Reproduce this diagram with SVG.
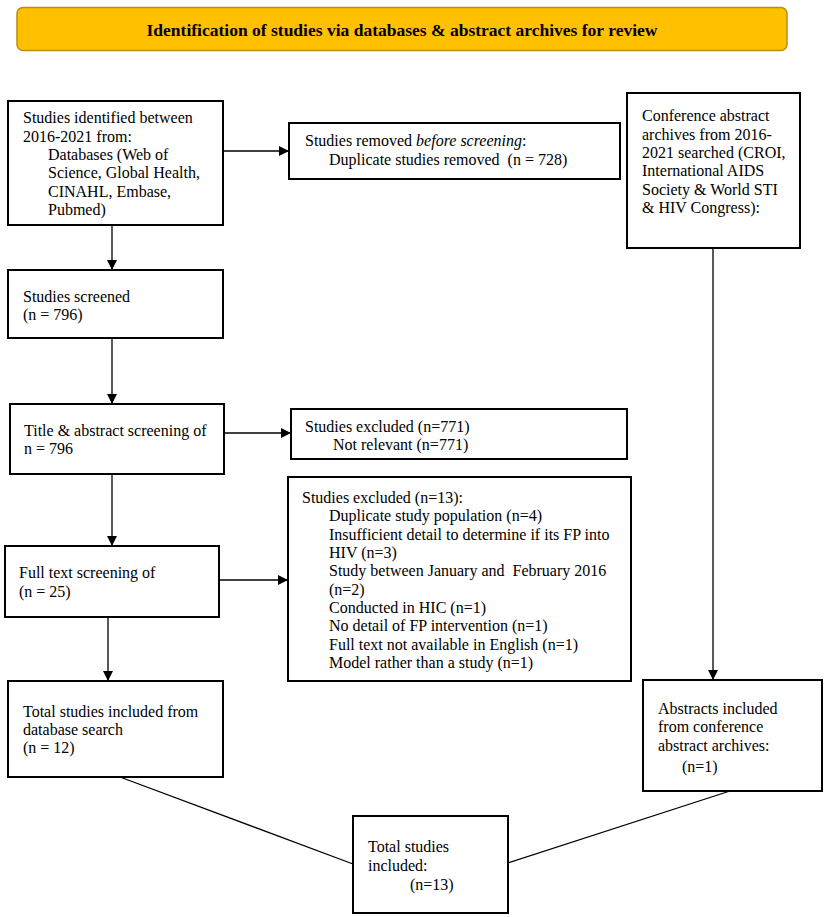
<svg xmlns="http://www.w3.org/2000/svg" width="829" height="917" viewBox="0 0 829 917">
<style>
  .box { fill: #ffffff; stroke: #000000; stroke-width: 2; }
  .t { font-family: "Liberation Serif", "Times New Roman", serif; font-size: 16px; fill: #000000; white-space: pre; }
  .title { font-family: "Liberation Serif", "Times New Roman", serif; font-size: 17.5px; font-weight: bold; fill: #000000; }
  .conn { stroke: #000000; stroke-width: 1.3; fill: none; }
</style>
<defs>
  <marker id="arr" viewBox="0 0 10 10" refX="10" refY="5" markerWidth="10" markerHeight="10" markerUnits="userSpaceOnUse" orient="auto">
    <path d="M0,0 L10,5 L0,10 Z" fill="#000000"/>
  </marker>
</defs>
<rect width="829" height="917" fill="#ffffff"/>

<g id="banner">
  <rect x="17" y="7.5" width="770" height="43" rx="6" ry="6" fill="#FFC000" stroke="#B8900A" stroke-width="1.5"/>
  <text class="title" x="402" y="36" text-anchor="middle">Identification of studies via databases &amp; abstract archives for review</text>
</g>

<g id="connectors">
  <line class="conn" x1="223" y1="151" x2="289" y2="151" marker-end="url(#arr)"/>
  <line class="conn" x1="112" y1="225" x2="112" y2="270" marker-end="url(#arr)"/>
  <line class="conn" x1="112" y1="338" x2="112" y2="404" marker-end="url(#arr)"/>
  <line class="conn" x1="224" y1="433" x2="291" y2="433" marker-end="url(#arr)"/>
  <line class="conn" x1="112" y1="474" x2="112" y2="546" marker-end="url(#arr)"/>
  <line class="conn" x1="219" y1="580" x2="288" y2="580" marker-end="url(#arr)"/>
  <line class="conn" x1="108" y1="617" x2="108" y2="681" marker-end="url(#arr)"/>
  <line class="conn" x1="713" y1="248" x2="713" y2="680" marker-end="url(#arr)"/>
  <line class="conn" x1="120" y1="777" x2="353" y2="864"/>
  <line class="conn" x1="508" y1="863" x2="730" y2="791"/>
</g>

<g id="identified">
  <rect class="box" x="8" y="101" width="215" height="124"/>
  <text class="t" x="23" y="123">Studies identified between</text>
  <text class="t" x="23" y="141.5">2016-2021 from:</text>
  <text class="t" x="48" y="160">Databases (Web of</text>
  <text class="t" x="48" y="178">Science, Global Health,</text>
  <text class="t" x="48" y="196.5">CINAHL, Embase,</text>
  <text class="t" x="48" y="215">Pubmed)</text>
</g>

<g id="removed">
  <rect class="box" x="289" y="123" width="331" height="56"/>
  <text class="t" x="305" y="146">Studies removed <tspan font-style="italic">before screening</tspan>:</text>
  <text class="t" x="329" y="165">Duplicate studies removed  (n = 728)</text>
</g>

<g id="conference">
  <rect class="box" x="627" y="93" width="173" height="155"/>
  <text class="t" x="642" y="121">Conference abstract</text>
  <text class="t" x="642" y="139.5">archives from 2016-</text>
  <text class="t" x="642" y="158">2021 searched (CROI,</text>
  <text class="t" x="642" y="176">International AIDS</text>
  <text class="t" x="642" y="194.5">Society &amp; World STI</text>
  <text class="t" x="642" y="213">&amp; HIV Congress):</text>
</g>

<g id="screened">
  <rect class="box" x="8" y="270" width="215" height="68"/>
  <text class="t" x="23" y="302">Studies screened</text>
  <text class="t" x="23" y="320">(n = 796)</text>
</g>

<g id="title-abstract">
  <rect class="box" x="10" y="404" width="214" height="70"/>
  <text class="t" x="24" y="436">Title &amp; abstract screening of</text>
  <text class="t" x="24" y="454">n = 796</text>
</g>

<g id="excluded771">
  <rect class="box" x="291" y="409" width="336" height="50"/>
  <text class="t" x="305" y="432">Studies excluded (n=771)</text>
  <text class="t" x="333" y="450">Not relevant (n=771)</text>
</g>

<g id="fulltext">
  <rect class="box" x="5" y="546" width="214" height="71"/>
  <text class="t" x="19" y="578">Full text screening of</text>
  <text class="t" x="19" y="597">(n = 25)</text>
</g>

<g id="excluded13">
  <rect class="box" x="288" y="477" width="343" height="204"/>
  <text class="t" x="302" y="503">Studies excluded (n=13):</text>
  <text class="t" x="329" y="521">Duplicate study population (n=4)</text>
  <text class="t" x="329" y="539.5">Insufficient detail to determine if its FP into</text>
  <text class="t" x="329" y="558">HIV (n=3)</text>
  <text class="t" x="329" y="576">Study between January and  February 2016</text>
  <text class="t" x="329" y="594.5">(n=2)</text>
  <text class="t" x="329" y="613">Conducted in HIC (n=1)</text>
  <text class="t" x="329" y="631">No detail of FP intervention (n=1)</text>
  <text class="t" x="329" y="649.5">Full text not available in English (n=1)</text>
  <text class="t" x="329" y="668">Model rather than a study (n=1)</text>
</g>

<g id="total-db">
  <rect class="box" x="8" y="681" width="215" height="96"/>
  <text class="t" x="23" y="717">Total studies included from</text>
  <text class="t" x="23" y="735">database search</text>
  <text class="t" x="23" y="753">(n = 12)</text>
</g>

<g id="abstracts-included">
  <rect class="box" x="643" y="680" width="179" height="111"/>
  <text class="t" x="658" y="714">Abstracts included</text>
  <text class="t" x="658" y="732">from conference</text>
  <text class="t" x="658" y="751">abstract archives:</text>
  <text class="t" x="682" y="772">(n=1)</text>
</g>

<g id="total">
  <rect class="box" x="353" y="816" width="155" height="97"/>
  <text class="t" x="368" y="852">Total studies</text>
  <text class="t" x="368" y="871">included:</text>
  <text class="t" x="410" y="890">(n=13)</text>
</g>
</svg>
